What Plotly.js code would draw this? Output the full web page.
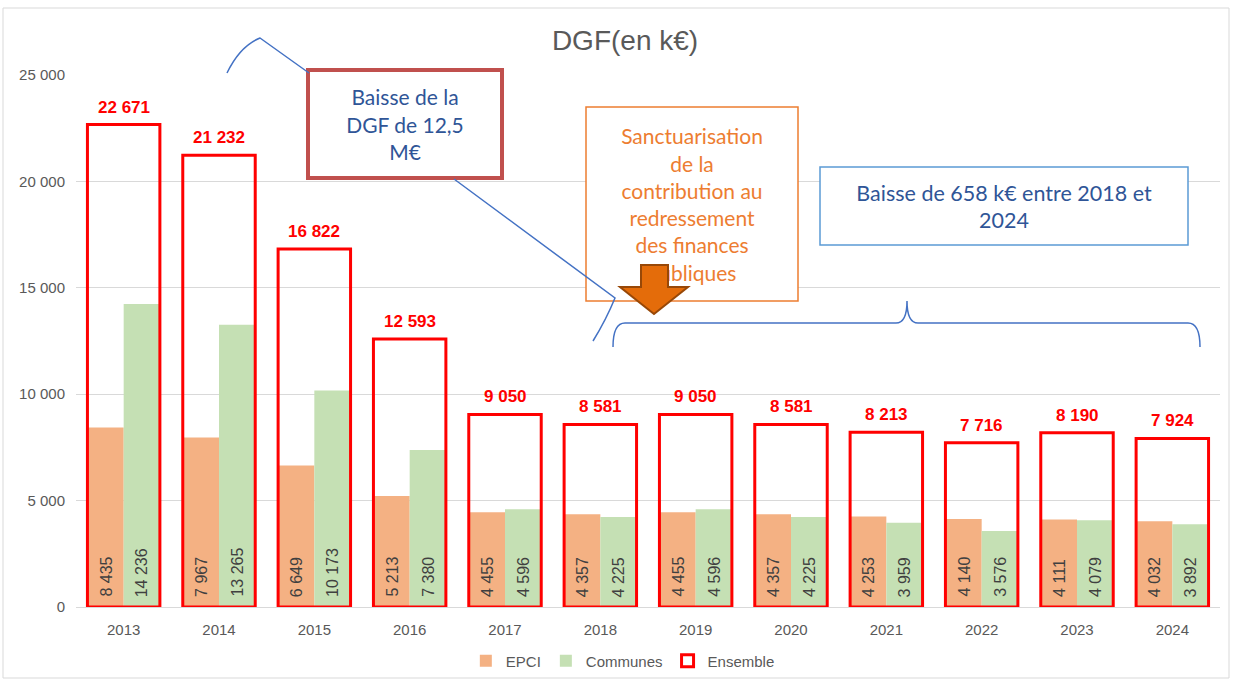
<!DOCTYPE html>
<html><head><meta charset="utf-8">
<script src="https://cdn.plot.ly/plotly-3.0.1.min.js"></script>
<style>html,body{margin:0;padding:0;background:#fff}#chart{width:1233px;height:681px}</style>
</head><body><div id="chart"></div>
<script>
const years = ['2013','2014','2015','2016','2017','2018','2019','2020','2021','2022','2023','2024'];
const epci = [8435, 7967, 6649, 5213, 4455, 4357, 4455, 4357, 4253, 4140, 4111, 4032];
const communes = [14236, 13265, 10173, 7380, 4596, 4225, 4596, 4225, 3959, 3576, 4079, 3892];
const ensemble = [22671, 21232, 16822, 12593, 9050, 8581, 9050, 8581, 8213, 7716, 8190, 7924];
const seriesNames = ['EPCI', 'Communes', 'Ensemble'];
const yTicks = [0, 5000, 10000, 15000, 20000, 25000];
const chartTitle = 'DGF(en k€)';
const calloutText = ['Baisse de la', 'DGF de 12,5', 'M€'];
const orangeText = ['Sanctuarisation', 'de la', 'contribution au', 'redressement', 'des finances', 'publiques'];
const blueText = ['Baisse de 658 k€ entre 2018 et', '2024'];

const W = 1233, H = 681, L = 76, R = 1220, T = 75, B = 607;
const BARGAP = 0.24;
const px = x => (x - L) / (R - L);
const py = y => (B - y) / (B - T);
const P = (x, y) => px(x).toFixed(5) + ',' + py(y).toFixed(5);
const fmt = v => String(v).replace(/\B(?=(\d{3})+(?!\d))/g, ' ');

const ARIAL = 'Liberation Sans, Arial, sans-serif';
const CAL = 'Lato, Carlito, Calibri, sans-serif';

const traces = [
  {type: 'bar', name: seriesNames[0], x: years, y: epci, marker: {color: '#F4B183'}, hoverinfo: 'skip'},
  {type: 'bar', name: seriesNames[1], x: years, y: communes, marker: {color: '#C5E0B4'}, hoverinfo: 'skip'},
  {type: 'bar', name: seriesNames[2], x: years, y: ensemble, xaxis: 'x2',
   marker: {color: 'rgba(255,255,255,0)', line: {color: '#FF0000', width: 3}}, hoverinfo: 'skip'}
];

// sub-bar centre offset in px (half of one grouped bar width)
const catW = (R - L) / years.length;
const half = catW * (1 - BARGAP) / 4;
const inFont = {family: ARIAL, size: 16, color: '#404040'};
const insideLabels = (vals, sign) => vals.map((v, i) => ({
  x: i, xref: 'x', y: 0, yref: 'y', text: fmt(v), showarrow: false, textangle: -90,
  xanchor: 'center', yanchor: 'bottom', xshift: sign * half, yshift: 8, font: inFont
}));

const annotations = ensemble.map((v, i) => ({
  x: i, xref: 'x', y: v, yref: 'y', text: '<b>' + fmt(v) + '</b>', showarrow: false,
  yanchor: 'bottom', yshift: 6,
  font: {family: ARIAL, size: 17, color: '#FF0000'}
})).concat(insideLabels(epci, -1), insideLabels(communes, 1));

function rectShape(x0, y0, x1, y1, line, fill, lines, font) {
  const s = {type: 'rect', xref: 'paper', yref: 'paper', layer: 'above',
    x0: px(x0), x1: px(x1), y0: py(y1), y1: py(y0),
    line: line, fillcolor: fill};
  if (lines) s.label = {text: lines.join('<br>'), font: font, textposition: 'middle center'};
  return s;
}
function pathShape(d, color, width, fill) {
  return {type: 'path', xref: 'paper', yref: 'paper', layer: 'above', path: d,
    line: {color: color, width: width}, fillcolor: fill || 'rgba(0,0,0,0)'};
}

const shapes = [
  rectShape(3, 8, 1229, 678, {color: '#D9D9D9', width: 1}, 'rgba(0,0,0,0)'),
  rectShape(308, 70, 502, 178, {color: '#C0504D', width: 4}, '#FFFFFF', calloutText,
            {family: CAL, size: 21, color: '#2F5597'}),
  rectShape(586, 107, 798, 301, {color: '#ED7D31', width: 1.5}, '#FFFFFF', orangeText,
            {family: CAL, size: 21, color: '#ED7D31'}),
  rectShape(820, 167, 1188, 245, {color: '#5B9BD5', width: 1.5}, '#FFFFFF', blueText,
            {family: CAL, size: 21.5, color: '#2F5597'}),
  pathShape('M' + P(227, 73) + ' Q' + P(240, 46) + ' ' + P(260, 38) + ' L' + P(309, 73), '#4472C4', 1.5),
  pathShape('M' + P(454, 179) + ' L' + P(615, 298) + ' Q' + P(606, 320) + ' ' + P(593, 341), '#4472C4', 1.5),
  pathShape('M' + P(613, 347) + ' Q' + P(613, 323) + ' ' + P(625, 323) + ' L' + P(896, 323) +
            ' Q' + P(907, 323) + ' ' + P(907, 301) + ' Q' + P(907, 323) + ' ' + P(918, 323) +
            ' L' + P(1188, 323) + ' Q' + P(1200, 323) + ' ' + P(1200, 347), '#4472C4', 1.5),
  pathShape('M' + P(641, 265) + ' L' + P(668, 265) + ' L' + P(668, 287) + ' L' + P(688, 287) +
            ' L' + P(654, 314) + ' L' + P(620, 287) + ' L' + P(641, 287) + ' Z', '#984807', 2, '#E46C0A')
];

const layout = {
  width: W, height: H,
  margin: {l: L, r: W - R, t: T, b: H - B, pad: 0},
  paper_bgcolor: '#FFFFFF', plot_bgcolor: '#FFFFFF',
  font: {family: ARIAL, color: '#595959'},
  title: {text: chartTitle, font: {family: ARIAL, size: 28, color: '#595959'},
          xref: 'container', x: 625 / W, xanchor: 'center', yref: 'container', y: 1 - 40 / H, yanchor: 'middle'},
  barmode: 'group', bargap: BARGAP, bargroupgap: 0,
  showlegend: true,
  legend: {orientation: 'h', x: 0.478, xanchor: 'center', yref: 'container', y: 1 - 661 / H, yanchor: 'middle',
           font: {family: ARIAL, size: 15, color: '#595959'}, itemwidth: 30, bgcolor: 'rgba(0,0,0,0)',
           traceorder: 'normal'},
  xaxis: {type: 'category', range: [-0.5, 11.5], showgrid: false, showline: true, linecolor: '#D9D9D9', linewidth: 1,
          ticks: '', tickfont: {family: ARIAL, size: 15, color: '#595959'}, ticklabelstandoff: 9, fixedrange: true},
  xaxis2: {type: 'category', range: [-0.5, 11.5], overlaying: 'x', visible: false, fixedrange: true},
  yaxis: {range: [0, 25000], tickvals: yTicks, ticktext: yTicks.map(fmt), showgrid: true, gridcolor: '#D9D9D9',
          gridwidth: 1, zeroline: false, showline: false, ticks: '',
          tickfont: {family: ARIAL, size: 15, color: '#595959'}, ticklabelstandoff: 10, fixedrange: true},
  annotations: annotations,
  shapes: shapes
};

Plotly.newPlot('chart', traces, layout, {displayModeBar: false, staticPlot: true});
</script>
</body></html>
